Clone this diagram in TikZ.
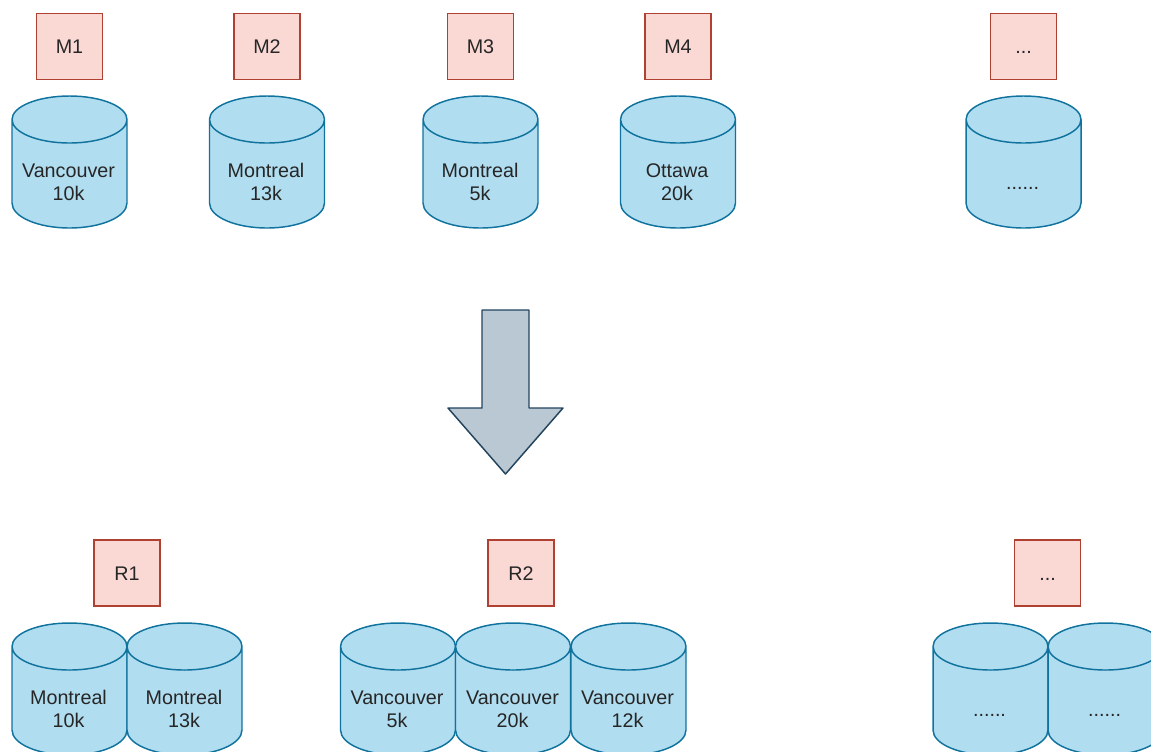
\documentclass[tikz,border=0pt]{standalone}
\usepackage{fontspec}
\setmainfont{Liberation Sans}
\definecolor{boxfill}{HTML}{FAD9D5}
\definecolor{boxline}{HTML}{AE4132}
\definecolor{dbfill}{HTML}{B1DDF0}
\definecolor{dbline}{HTML}{10739E}
\definecolor{arrowfill}{HTML}{BAC8D3}
\definecolor{arrowline}{HTML}{23445D}
\tikzset{
	task/.style={rectangle,draw=boxline,fill=boxfill,line width=1.1pt,inner sep=0pt,minimum size=49.5pt,text height=10.6pt,text depth=0pt,text=black!85,font=\fontsize{14.8}{17.25}\selectfont},
	db/.style={draw=dbline,fill=dbfill,line width=1.1pt},
	dbtext/.style={align=center,inner sep=0pt,text=black!85,font=\fontsize{14.8}{17.25}\selectfont},
}
\newcommand{\dbcyl}[1]{\draw[db,shift={(#1)}] (-57.5,-42.5)--(-57.5,41) arc(180:0:57.5 and 25)--(57.5,-42.5) arc(0:-180:57.5 and 23.5)--cycle (-57.5,-42.5) arc(180:0:57.5 and 23.5);}
\begin{document}
\begin{tikzpicture}[x=0.75pt,y=-0.75pt]
		\useasboundingbox (0,0) rectangle (1151,751);
		\clip (0,0) rectangle (1151,751);
		\node[task](m1) at (69.5,46.5){M1};
		\node[task](m2) at (267,46.5){M2};
		\node[task](m3) at (480.5,46.5){M3};
		\node[task](m4) at (678,46.5){M4};
		\node[task](m5) at (1023.5,46.5){...};
		\dbcyl{69.5,162}
		\dbcyl{267,162}
		\dbcyl{480.5,162}
		\dbcyl{678,162}
		\dbcyl{1023.5,162}
		\node[dbtext](a1) at (68.5,182){Vancouver\\10k};
		\node[dbtext](a2) at (266,182){Montreal\\13k};
		\node[dbtext](a3) at (480,182){Montreal\\5k};
		\node[dbtext](a4) at (677,182){Ottawa\\20k};
		\node[dbtext](a5) at (1022.5,188){......};
		\draw[line width=1.1pt,draw=arrowline,fill=arrowfill,line join=round] (482,310)--(529,310)--(529,408)--(563,408)--(505.5,474)--(448,408)--(482,408)--cycle;
		\node[task](r1) at (127,573){R1};
		\node[task](r2) at (521,573){R2};
		\node[task](r3) at (1047.5,573){...};
		\dbcyl{69.5,689}
		\dbcyl{184.5,689}
		\dbcyl{398,689}
		\dbcyl{513,689}
		\dbcyl{628.5,689}
		\dbcyl{990.5,689}
		\dbcyl{1105.5,689}
		\node[dbtext](b1) at (68.5,709){Montreal\\10k};
		\node[dbtext](b2) at (184,709){Montreal\\13k};
		\node[dbtext](b3) at (397,709){Vancouver\\5k};
		\node[dbtext](b4) at (512.5,709){Vancouver\\20k};
		\node[dbtext](b5) at (627.5,709){Vancouver\\12k};
		\node[dbtext](b6) at (989.5,715){......};
		\node[dbtext](b7) at (1104.5,715){......};
	\end{tikzpicture}
\end{document}
